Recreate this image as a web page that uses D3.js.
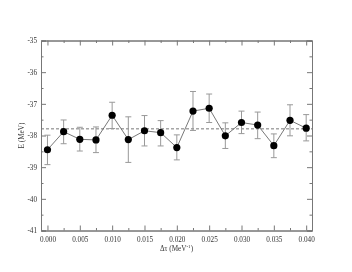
<!DOCTYPE html>
<html>
<head>
<meta charset="utf-8">
<script src="https://cdn.jsdelivr.net/npm/d3@7"></script>
<style>
  html, body { margin: 0; padding: 0; background: #fff; }
  svg { display: block; will-change: transform; }
  text { font-family: "Liberation Serif", "DejaVu Serif", serif; fill: #333; }
</style>
</head>
<body>
<svg id="chart" width="352" height="272"></svg>
<script>
const dtau = [0.0, 0.0025, 0.005, 0.0075, 0.01, 0.0125, 0.015, 0.0175, 0.02, 0.0225, 0.025, 0.0275, 0.03, 0.0325, 0.035, 0.0375, 0.04];
const energy = [-38.45, -37.88, -38.12, -38.14, -37.36, -38.13, -37.85, -37.91, -38.38, -37.23, -37.14, -38.01, -37.59, -37.67, -38.32, -37.52, -37.77];
const errUp = [0.46, 0.37, 0.38, 0.41, 0.41, 0.72, 0.48, 0.38, 0.40, 0.62, 0.45, 0.41, 0.36, 0.41, 0.37, 0.49, 0.43];
const errDown = [0.47, 0.38, 0.37, 0.40, 0.42, 0.72, 0.48, 0.42, 0.39, 0.61, 0.45, 0.40, 0.35, 0.43, 0.38, 0.49, 0.40];
const meanE = -37.79;
const xTicks = [0.0, 0.005, 0.01, 0.015, 0.02, 0.025, 0.03, 0.035, 0.04];
const xMinor = [0.0025, 0.0075, 0.0125, 0.0175, 0.0225, 0.0275, 0.0325, 0.0375];
const yTicks = [-41, -40, -39, -38, -37, -36, -35];
const yMinor = [-40.5, -39.5, -38.5, -37.5, -36.5, -35.5];

const svg = d3.select("#chart");
const L = 41, R = 312, T = 40.5, B = 230.5;
const x = d3.scaleLinear().domain([-0.001, 0.0409]).range([L, R]);
const y = d3.scaleLinear().domain([-41, -35]).range([B, T]);
const frameColor = "#777";

// mean dashed line
svg.append("line")
  .attr("x1", L).attr("x2", R)
  .attr("y1", y(meanE)).attr("y2", y(meanE))
  .attr("stroke", "#555").attr("stroke-width", 0.8)
  .attr("stroke-dasharray", "3,2");

// axes (ticks inward)
const fmt = d3.format(".3f");
const axB = d3.axisBottom(x).tickValues(xTicks).tickFormat(fmt).tickSize(-5).tickPadding(6);
const axT = d3.axisTop(x).tickValues(xTicks).tickFormat("").tickSize(-5);
const axL = d3.axisLeft(y).tickValues(yTicks).tickFormat(d => d).tickSize(-5).tickPadding(4);
const axRt = d3.axisRight(y).tickValues(yTicks).tickFormat("").tickSize(-5);
const mB = d3.axisBottom(x).tickValues(xMinor).tickFormat("").tickSize(-2.5);
const mT = d3.axisTop(x).tickValues(xMinor).tickFormat("").tickSize(-2.5);
const mL = d3.axisLeft(y).tickValues(yMinor).tickFormat("").tickSize(-2.5);
const mR = d3.axisRight(y).tickValues(yMinor).tickFormat("").tickSize(-2.5);

function styleAxis(g) {
  g.selectAll("path.domain").attr("stroke", frameColor).attr("stroke-width", 1);
  g.selectAll(".tick line").attr("stroke", frameColor).attr("stroke-width", 1);
  g.selectAll(".tick text").attr("fill", "#444").style("font-family", '"Liberation Serif", serif').style("font-size", "7.2px");
}
[[axB, B], [mB, B], [axT, T], [mT, T]].forEach(([a, ty]) => {
  svg.append("g").attr("transform", `translate(0,${ty})`).call(a).call(styleAxis);
});
[[axL, L], [mL, L], [axRt, R], [mR, R]].forEach(([a, tx]) => {
  svg.append("g").attr("transform", `translate(${tx},0)`).call(a).call(styleAxis);
});

// error bars
const eb = svg.append("g").attr("stroke", "#999").attr("stroke-width", 1);
dtau.forEach((d, i) => {
  const cx = x(d), y1 = y(energy[i] + errUp[i]), y2 = y(energy[i] - errDown[i]);
  eb.append("line").attr("x1", cx).attr("x2", cx).attr("y1", y1).attr("y2", y2);
  eb.append("line").attr("x1", cx - 3).attr("x2", cx + 3).attr("y1", y1).attr("y2", y1);
  eb.append("line").attr("x1", cx - 3).attr("x2", cx + 3).attr("y1", y2).attr("y2", y2);
});

// connecting line
const pts = dtau.map((d, i) => [d, energy[i]]);
svg.append("path")
  .attr("d", d3.line().x(p => x(p[0])).y(p => y(p[1]))(pts))
  .attr("fill", "none").attr("stroke", "#555").attr("stroke-width", 0.8);

// markers
svg.append("g").selectAll("circle").data(pts).join("circle")
  .attr("cx", p => x(p[0])).attr("cy", p => y(p[1]))
  .attr("r", 3.6).attr("fill", "#000");

// labels
svg.append("text")
  .attr("x", (L + R) / 2).attr("y", 251)
  .attr("text-anchor", "middle").style("font-size", "7.2px").attr("fill", "#444")
  .html('Δτ  (MeV<tspan dy="-3" style="font-size:5px">-1</tspan><tspan dy="3">)</tspan>');
svg.append("text")
  .attr("transform", `translate(24,${(T + B) / 2}) rotate(-90)`)
  .attr("text-anchor", "middle").style("font-size", "7.2px").attr("fill", "#444")
  .text("E (MeV)");
</script>
</body>
</html>
